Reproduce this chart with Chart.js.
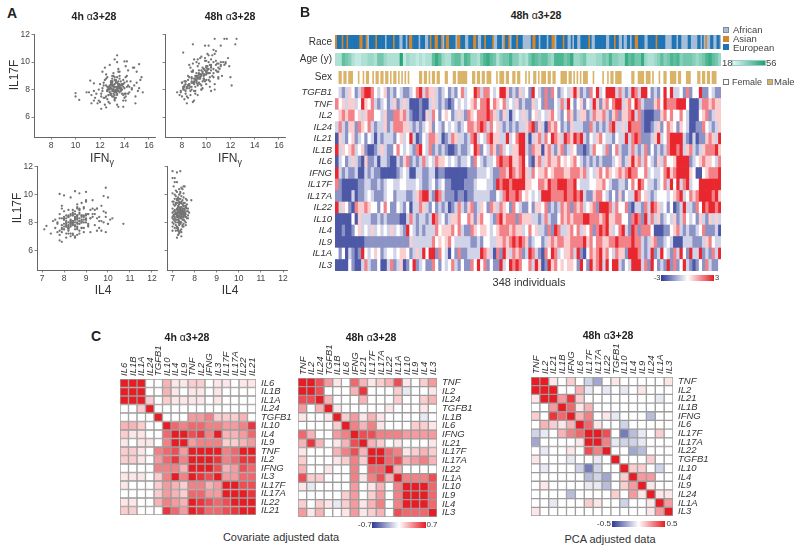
<!DOCTYPE html>
<html>
<head>
<meta charset="utf-8">
<script src="https://cdn.jsdelivr.net/npm/chart.js@4/dist/chart.umd.min.js"></script>
<style>
body { margin:0; background:#fff; font-family:"Liberation Sans",Arial,sans-serif; color:#333; }
canvas { position:absolute; }
.t { position:absolute; white-space:nowrap; line-height:1; }
.box { position:absolute; }
</style>
</head>
<body>
<script>
// ---------- panel A, values
var x1 = [10.0,10.0,10.3,11.2,11.5,12.8,13.2,13.4,13.4,14.0,
14.2,15.2,15.0,14.9,15.4,15.5,12.1,12.5,13.5,13.9,
10.9,11.1,11.3,11.5,11.6,11.8,11.3,11.5,11.7,11.9,
12.0,12.1,12.2,12.3,12.4,12.5,12.1,12.2,12.3,12.4,
12.6,12.7,12.8,12.9,13.0,13.1,12.6,12.7,12.8,12.9,
13.0,13.1,13.2,13.3,13.4,13.5,13.0,13.1,13.2,13.3,
13.4,13.5,13.6,13.7,13.8,13.9,13.4,13.5,13.6,13.7,
13.8,13.9,14.0,14.1,14.2,14.3,13.2,13.3,13.4,13.5,
14.0,14.1,14.2,14.3,14.4,14.5,14.6,14.7,14.8,14.9,
15.0,15.1,15.2,15.3,12.4,12.6,12.8,13.0,13.2,13.4,
12.5,12.7,12.9,13.1,13.3,13.5,13.7,13.9,14.1,14.3,
12.2,12.4,12.6,12.8,13.0,13.2,13.4,13.6,13.8,14.0,
12.9,13.0,13.1,13.2,13.3,13.4,13.5,13.6,13.0,13.2,
13.1,13.3,13.5,13.7,12.7,12.9,13.6,13.8,14.2,14.4,
11.9,12.0,12.3,12.5,13.0,13.2,13.6,14.1,14.6,14.8,
12.6,12.8,13.0,13.2,13.4,13.6,13.8,14.0,12.7,12.9,
13.1,13.3,13.5,13.7,13.9,12.8,13.0,13.2,13.4,13.6,
12.5,12.7,12.9,13.1,13.3,13.5,13.7,13.9,14.1,12.6,
12.8,13.0,13.2,13.4,13.6,13.8,12.9,13.1,13.3,13.5];
var y1 = [7.5,7.75,7.25,8.65,8.45,9.8,10.2,10.5,10.0,10.05,
10.05,9.85,9.3,7.0,8.9,7.8,6.6,6.7,6.75,6.75,
7.8,7.8,7.0,7.2,7.4,7.0,7.6,7.9,7.7,7.2,
7.1,7.5,7.9,8.3,8.7,9.1,7.7,8.1,8.5,6.9,
7.3,7.6,8.0,8.4,8.8,9.2,8.2,7.1,7.8,8.6,
7.5,8.3,8.9,7.4,8.1,9.5,8.0,7.7,8.4,8.7,
7.6,8.2,8.8,7.9,8.4,7.2,8.5,7.9,9.0,8.3,
7.7,8.7,8.1,7.5,9.0,8.3,7.9,8.6,8.2,9.3,
7.4,8.9,8.2,9.4,7.8,8.6,8.1,9.6,8.3,7.5,
8.5,7.9,8.1,8.7,7.4,8.9,7.0,8.6,7.2,6.9,
8.3,8.0,7.6,9.0,7.8,8.1,8.6,8.2,9.7,7.7,
9.3,9.6,7.9,8.2,8.3,7.9,8.0,8.4,8.0,8.5,
8.1,8.4,7.9,8.2,8.0,7.7,8.3,8.1,8.6,7.4,
8.0,8.2,8.4,8.1,8.1,8.3,7.8,8.3,8.6,8.2,
8.0,8.4,7.4,8.8,9.0,7.3,9.3,7.2,8.0,9.6,
7.9,8.1,8.3,7.8,8.0,8.2,8.4,7.7,7.6,8.5,
8.2,7.8,8.6,8.0,7.6,7.8,8.5,7.6,8.9,8.1,
7.5,8.2,7.7,7.5,8.5,7.9,8.1,8.4,7.7,8.0,
8.3,7.9,8.7,7.9,8.3,8.0,8.6,8.1,7.9,8.4];
var x2 = [8.1,8.9,9.9,10.2,10.7,11.5,11.7,12.5,11.2,12.4,
7.6,7.8,7.9,8.0,8.1,8.2,8.3,8.2,8.4,8.5,
8.6,8.7,8.8,8.9,8.0,8.2,8.4,8.6,8.8,9.0,
9.1,9.2,9.3,9.4,9.5,8.5,8.7,8.9,9.1,9.3,
9.5,9.6,9.7,9.8,9.9,10.0,9.0,9.2,9.4,9.6,
9.8,10.0,10.1,10.2,10.3,10.4,10.5,9.3,9.5,9.7,
9.9,10.1,10.3,10.5,10.6,10.7,10.8,10.9,11.0,11.1,
10.0,10.2,10.4,10.6,10.8,11.0,11.2,11.4,11.6,11.8,
12.0,12.1,11.9,11.5,11.3,11.0,10.7,10.4,10.2,9.9,
8.4,8.7,9.0,9.3,9.6,9.0,8.8,8.6,8.3,8.1,
9.2,9.4,9.6,9.8,10.0,10.2,9.1,9.3,9.5,9.7,
7.9,8.2,8.5,8.8,9.1,9.4,9.7,10.0,10.3,10.6,
8.4,8.6,8.8,9.0,9.2,9.4,9.6,9.8,10.0,10.2,
8.3,8.6,8.9,9.2,9.5,9.8,10.1,10.4,10.7,11.0,
8.9,9.2,9.6,10.0,10.4,10.8,11.2,11.6,10.6,10.9,
8.1,8.3,8.5,8.7,8.9,9.1,9.3,9.5,9.7,9.9,
8.2,8.4,8.6,8.8,9.0,9.2,9.4,9.6,9.8,10.0,
8.0,8.3,8.5,8.8,9.0,9.3,9.5,9.8,10.1,10.3,
10.4,10.6,10.8,11.0,11.2,9.9,10.1,10.3,9.1,9.3];
var y2 = [10.7,11.3,11.2,11.2,11.7,11.7,11.7,11.7,11.2,11.3,
7.8,7.6,7.9,7.5,8.0,7.3,7.7,8.2,7.0,7.4,
8.3,7.6,8.5,7.1,8.5,8.6,8.1,8.9,8.0,8.4,
7.7,8.7,8.3,9.1,8.4,9.0,9.6,9.3,8.2,9.7,
8.9,9.4,8.1,9.0,8.6,9.3,7.9,8.5,9.9,8.0,
8.7,9.1,9.5,9.2,8.6,9.8,9.0,10.2,9.1,9.6,
10.1,9.7,9.2,10.5,10.0,10.6,9.4,9.9,8.8,9.5,
8.4,8.7,9.7,8.9,10.1,9.3,9.8,10.0,9.9,10.3,
8.9,8.3,9.7,9.8,9.0,9.6,8.0,7.9,10.5,9.1,
7.5,7.9,7.2,7.6,8.0,10.2,9.3,9.8,8.6,8.2,
9.2,9.4,9.0,9.1,9.3,9.5,8.8,9.0,8.8,9.2,
7.8,8.3,8.7,8.9,7.9,8.5,8.6,10.1,8.2,9.2,
8.1,8.4,8.8,8.5,8.9,9.2,8.3,9.5,8.7,10.0,
8.4,8.1,9.4,8.6,10.3,8.8,10.6,9.4,8.4,8.9,
9.9,10.0,10.4,9.6,10.2,10.8,9.7,10.0,10.9,9.3,
8.1,7.9,8.3,8.2,8.5,8.7,8.9,9.1,9.3,9.4,
8.0,8.2,8.4,8.6,8.8,9.0,8.8,9.1,9.5,9.7,
8.5,8.6,8.3,8.2,8.6,8.4,8.9,8.8,9.2,9.8,
9.6,9.5,9.8,9.9,10.0,10.3,9.4,8.9,9.0,8.8];
var x3 = [7.1,7.2,7.4,7.8,8.0,8.5,8.7,9.0,9.9,10.7,
10.2,7.8,7.9,7.5,7.6,7.6,7.7,7.7,7.8,7.8,
7.9,7.9,8.0,8.0,8.1,8.1,8.2,8.2,8.3,8.3,
8.4,8.4,8.5,8.5,8.6,8.6,8.7,8.7,8.8,8.8,
8.9,8.9,9.0,9.0,9.1,9.1,9.2,9.2,9.3,9.3,
9.4,9.4,9.5,9.5,9.6,9.6,9.7,9.7,9.8,9.8,
9.9,9.9,10.0,10.0,10.1,7.8,7.9,8.0,8.1,8.2,
8.3,8.4,8.5,8.6,8.7,8.8,8.9,9.0,9.1,9.2,
8.0,8.1,8.2,8.3,8.4,8.5,8.6,8.7,8.8,8.9,
7.7,7.9,8.1,8.3,8.5,8.7,8.9,9.1,9.3,9.5,
8.2,8.3,8.4,8.5,8.6,8.7,8.8,8.2,8.3,8.4,
8.4,8.6,8.8,9.0,9.2,9.4,9.6,9.8,8.0,8.2,
8.5,8.6,8.7,8.8,8.9,9.0,8.4,8.5,8.6,8.7,
8.1,8.2,8.3,8.4,8.5,8.6,8.0,8.1,8.2,8.3,
7.9,8.3,8.6,9.0,9.3,9.7,9.9,10.0,8.8,9.5,
7.9,8.0,8.1,8.2,8.3,8.4,8.5,8.6,8.7,8.8,
8.9,9.0,9.1,8.0,8.1,8.2,8.3,8.4,8.5,8.6,
8.7,8.8,7.8,7.9,8.0,8.1,8.2,8.3,8.4,8.5,
8.6,8.7,8.9,9.0,8.2,8.4,8.6,8.3,8.5,8.7];
var y3 = [7.5,7.75,7.2,10.05,9.95,10.25,10.1,10.2,10.5,7.9,
8.3,6.7,6.6,8.1,7.6,8.2,7.3,7.9,7.1,8.6,
7.5,9.0,7.7,8.4,6.9,7.9,7.4,8.9,7.0,8.2,
7.2,8.5,6.9,8.0,7.6,9.3,7.9,8.6,8.2,9.4,
7.6,9.1,8.3,9.5,7.7,8.6,8.9,7.3,8.4,9.6,
7.8,8.9,7.4,9.0,8.1,7.6,9.2,7.4,8.0,9.9,
8.7,7.3,9.8,7.9,8.2,7.4,8.3,8.8,7.7,7.5,
8.1,7.8,8.4,7.7,8.9,8.0,8.5,9.6,7.8,8.3,
8.2,8.3,8.0,8.6,8.1,8.4,8.3,8.7,8.0,8.2,
8.0,7.6,8.5,7.2,7.5,7.2,7.3,7.9,8.6,8.3,
7.7,7.9,8.1,7.8,8.0,7.9,8.4,8.4,8.1,8.7,
8.9,9.0,8.1,8.5,8.3,8.6,8.4,8.8,7.9,7.8,
8.6,8.2,9.0,7.6,9.0,8.0,7.9,7.0,8.5,7.4,
8.1,8.4,7.7,7.9,8.2,7.1,8.3,7.2,7.6,8.0,
9.2,9.8,9.1,8.2,9.0,8.1,8.4,7.9,8.5,9.0,
7.8,8.2,8.0,7.6,7.8,8.0,8.2,8.4,8.3,8.5,
8.4,8.2,8.6,7.5,7.8,7.6,7.9,8.1,7.7,7.9,
8.1,7.6,8.3,7.3,7.5,7.7,8.5,8.0,8.6,8.3,
8.5,8.1,8.0,8.6,7.2,7.1,7.5,8.5,8.8,8.9];
var x4 = [7.0,7.2,7.35,7.0,7.1,7.2,7.2,7.25,7.4,7.85,
7.0,7.0,7.0,7.0,7.0,7.0,7.05,7.05,7.05,7.05,
7.1,7.1,7.1,7.1,7.1,7.1,7.15,7.15,7.15,7.15,
7.15,7.2,7.2,7.2,7.2,7.2,7.2,7.25,7.25,7.25,
7.25,7.25,7.25,7.3,7.3,7.3,7.3,7.3,7.3,7.3,
7.35,7.35,7.35,7.35,7.35,7.35,7.4,7.4,7.4,7.4,
7.4,7.4,7.4,7.45,7.45,7.45,7.45,7.45,7.45,7.5,
7.5,7.5,7.5,7.5,7.5,7.55,7.55,7.55,7.55,7.55,
7.6,7.6,7.6,7.6,7.65,7.65,7.65,7.7,7.7,7.75,
7.1,7.15,7.2,7.25,7.3,7.35,7.4,7.45,7.5,7.55,
7.2,7.25,7.3,7.35,7.4,7.45,7.5,7.55,7.3,7.35,
7.05,7.1,7.15,7.2,7.25,7.3,7.35,7.4,7.45,7.5,
7.4,7.5,7.45,7.35,7.3,7.25,7.2,7.6,7.55,7.5,
7.0,7.05,7.1,7.15,7.3,7.4,7.5,7.6,7.7,7.3,
7.35,7.4,7.45,7.5,7.55,7.25,7.2,7.3,7.35,7.4,
7.0,7.1,7.2,7.3,7.4,7.5,7.6,7.7,7.05,7.15,
7.25,7.35,7.45,7.55,7.65,7.1,7.2,7.3,7.4,7.5,
7.05,7.15,7.25,7.35,7.45,7.55,7.6,7.65,7.0,7.1,
7.2,7.3,7.4,7.5,7.6,7.3,7.35,7.45,7.25,7.15];
var y4 = [11.7,11.6,11.7,11.2,11.2,10.9,6.9,7.1,7.0,9.6,
10.1,9.0,8.7,8.3,8.0,7.7,10.6,9.5,8.5,7.9,
10.9,9.2,8.9,8.4,8.1,7.6,10.3,9.3,8.6,8.2,
7.4,10.2,9.4,9.0,8.6,8.2,7.7,9.8,9.1,8.8,
8.4,8.0,7.5,10.0,9.3,8.9,8.5,8.1,7.8,7.2,
9.7,9.0,8.7,8.3,7.9,7.4,10.5,9.5,9.1,8.7,
8.4,8.0,7.5,10.4,9.6,9.0,8.6,8.2,7.7,10.6,
9.8,9.2,8.8,8.4,7.9,10.6,9.4,9.0,8.5,8.1,
9.7,9.1,8.6,8.0,9.3,8.8,8.3,9.0,8.5,8.7,
8.8,8.6,8.9,9.2,9.0,8.8,9.1,8.8,9.0,8.7,
8.4,8.7,8.5,8.9,8.6,8.9,8.5,8.8,9.7,9.4,
9.3,10.0,9.9,9.7,9.6,9.4,10.2,8.9,8.7,9.4,
9.9,10.1,9.3,10.1,10.4,7.4,7.6,8.4,8.5,8.2,
7.4,8.2,8.6,8.0,7.3,7.3,7.7,7.8,8.3,9.1,
8.6,8.5,8.4,8.2,8.6,8.4,8.5,8.3,8.0,8.7,
8.4,8.6,8.7,8.8,8.9,8.6,8.4,8.8,8.8,9.4,
8.2,8.4,8.6,8.9,9.0,8.3,8.5,8.1,8.3,9.2,
8.5,8.7,8.7,8.7,8.7,8.7,9.2,9.6,9.5,9.7,
9.6,9.5,9.4,9.2,9.1,7.9,8.0,7.8,7.6,7.8];
var yTicksA = [6,8,10,12];
var ifngTicks = [8,10,12,14,16];
var il4Ticks = [7,8,9,10,11,12];

// ---------- panel B, 348 individuals binned into columns
// race: a African, s Asian, e European. sex: f female, m male. age: 0 youngest .. 9 oldest
var race = 'seeeseeseeeeeeesseesaeeeeseeeeeaeeeeseeeaaeeaesseeeeaeeeaaes'
 +'eesseesaesseeeeasseeeaaeeesseaaeeseeeesaaeeeaseesaeeeseeeaaa'
 +'aaesseeaeeeeaeessaeeeeseeaaeaeeaaeeeeeseaaeeeeeeeaaeeeseeaaea'
 +'aeeaeesseeeeaaeeeeeseeeeeaaaaeeeaeeaaaaeeaaaaeeaeasaaeeaaeea';
var age = '226542112233255322229132212122'+'686322566376332578652455744232'+'576566437775683345222335474433'+'867558322346457674555434578653';
var sex = 'ffmmfmmfmmmfffmffmfmmffmfmmfmmfmmfmfmmfmfmfmfmffffffmmfmmfmf'
 +'mmfmmfffmmfffmmfmmmmmmfffmmfmmfmmfmmmfffmfmmmfmmffmmfmmfffmf'
 +'mffmmfmfmmmfmmfmmfffmmmmfmmfmfmfmfmmmfffmfffffmffmfmmfmmmmff'
 +'ffffmmffmmmmfmmmfmfffmffmmffmmmmfmmfffmmmffffmmfmmfmmfmmmfff';
var genes = ['TGFB1','TNF','IL2','IL24','IL21','IL1B','IL6','IFNG','IL17F','IL17A','IL22','IL10','IL4','IL9','IL1A','IL3'];
// one string per gene, a=-3 b=-2 c=-1 d=0 e=1 f=2 g=3
var heat = [
'dcbcedbcfggfdcdebcbdcbbcdfgcfe'+'ecbcdbcbdfcddgfcffdcdggebcbecd'+'bgdcbfbfdbcdcegebcbfdgcdgggcfc'+'bcgfcggdbcbdgdgccdbfbddgbbdcbb',
'fdeceecdgedfcbcdbcebcecaaabaac'+'ecbcbabdcdcdefdffgdfedfcdcebcb'+'becdbfbbdcfcgdbdebdcgebefdfggc'+'efdgfcbbbefdgfffgggdaaacffefee',
'defeffdeceffddcebbffefcbaabaec'+'fdbdedbcecbfedfffgfecbecacdcec'+'bdecdcefdcbdfebceebcfeefcbefbe'+'efgcfbaaabbefdfddfdcaaadefbcee',
'cfcbeebfedfcbccebcfffeecbcbcde'+'bdcbdcdcbcdffefgfcfdecbcbcbcce'+'fgbecafefdbcbecccbbfcbcbcfgcce'+'cgfffbaabcebdfedbedcaabbfdcbce',
'aecbdebcdbdcacbcccbdecdgcabdcf'+'fecabcfeccbcfgcdcfgeeccgcdfggc'+'acefcfdgfecgfegfgcbdcefdccbdcc'+'gcfgfbbbcegcdfggggcbacabbefecg',
'gcedefcdebaabcecbbdfdcdcbfgdcf'+'bcbcbaabcbbcdgfbdcfebfcdceeggc'+'bfeeaefcbefbcedbbabcfddcfbdfcb'+'bcfcbcfbdbcbcfggfgcefcbcefffge',
'acdbcecbaebbcaccbaacbefbcbcfcd'+'cfeedcdcbccdbfdcbccdfgffgeefgd'+'baefcefeefdedefdcbcbcbcbbbcdeb'+'cegefcfdcbecfddeggggbcdefeedcf',
'gcbcbbcaacbcbbaaaaabcdcaaccbbc'+'cabbaaaaaaabbbcccdcbbffegfefge'+'cfdeefdefffeefffefcdcefdfedefe'+'fgffddfcdccdfgefggggedaadefffg',
'fbaaaaabbccbbcbcddccddcccdcbbc'+'dbcdbbaaaabbbcdddccbgfggfgggge'+'eddffegffgggffgdcccddeefdcbbcc'+'bdfdgfdccbcdfcgdgcfgcddggggggg',
'bbaaacabbcdcbbbcddbcccbbcefggc'+'bgfcbbbabbabbcccccbbdcfgffgfde'+'dcdcgggffffgffgfgcbbeffdcbdbeb'+'dccgfdecbcdddcdefgcdfefggggfge',
'gcedbafeefeddbdfdbbdcbdaccfecb'+'dbcbcabcfcbefbcedbfecfedbfdcbb'+'dbeedfbcbcfefbfefcdefbgggfcfdd'+'fbaccbfcgfecdbdabcgccbfdgfggfg',
'aaaaadaecccbbcbcbbbbaacfcbccbc'+'gfcdbceefddfebefddcbfgefffbfee'+'eccbcfcbbdfefefffggfffefgeeffd'+'dbfgfbgcfcebcdcebcfdcdbecbecec',
'aabaabdecdcecdcdcecdcbgdcbcbcc'+'cfdeeefdfcbbfedeedcdefffefeecd'+'fdeccbfbgfccefdfcedfbfgfgecdfg'+'cbgfbfffdaaabbdefcbcbbcdfbbbca',
'aaaaaaaaabbbbbbbbbbbbbbecccccc'+'fdedefdcccccbbcbddcceefefgfgfe'+'bcddbcefeffeeffffgefdffeeffgff'+'ffgffcbcefbbcdcaaacccbbbcefdcc',
'dbdacbabgdcdedbcddcdeedbcecgdg'+'gbfdcadbfbbccccgfecafbgecfefbc'+'gfcbafdgfcdeefcgbadfefgefdcfee'+'bgggfcbcgbcgdcbfcgdbgccgbcbfcg',
'aaaadbaacfcbbdaacfbceabdgbcdbb'+'fdbdcdfcbdbbfdgdfbdbbgcdgfgfdd'+'fcgeabgefdedeedbgdbgefgcgdggcb'+'dcgggcfbgdbcbgbfbdgcbabdbfcbbd'
];
// how far along the colour bar each letter sits
var heatSteps = [-0.85,-0.55,-0.22,0,0.22,0.55,0.95];

// ---------- panel C, correlation in steps of 1/9 of the colour bar end
var labels1 = ['IL6','IL1B','IL1A','IL24','TGFB1','IL10','IL4','IL9','TNF','IL2','IFNG','IL3','IL17F','IL17A','IL22','IL21'];
var corr1 = [
[9,9,9,0,0,3,1,1,2,2,0,1,1,0,1,1],
[9,9,9,0,0,3,1,0,1,1,0,1,0,0,0,0],
[9,9,9,2,0,2,1,1,1,1,0,1,0,0,0,0],
[0,0,2,9,0,0,0,0,0,0,0,0,0,0,0,0],
[0,0,0,0,9,0,0,0,4,4,5,2,2,2,3,0],
[3,3,2,0,0,9,6,5,6,6,5,5,4,4,5,8],
[2,1,1,0,0,6,9,9,7,8,5,9,3,3,4,6],
[1,0,1,1,0,5,9,9,4,5,5,5,2,2,3,4],
[2,2,1,0,5,6,7,4,9,9,9,9,5,6,9,9],
[2,2,1,0,4,6,8,5,9,9,9,8,5,6,8,8],
[0,0,0,0,5,5,5,3,9,9,9,7,3,4,7,6],
[1,1,1,0,2,5,9,5,9,8,7,9,4,4,6,6],
[1,0,0,0,2,4,3,2,5,5,3,4,9,9,7,7],
[0,0,0,0,2,4,3,2,6,6,4,4,9,9,9,8],
[1,1,0,0,3,5,4,3,9,8,7,6,7,9,9,9],
[2,2,0,0,0,8,6,4,9,8,6,6,7,8,9,9]];
var labels2 = ['TNF','IL2','IL24','TGFB1','IL1B','IL6','IFNG','IL21','IL17F','IL17A','IL22','IL1A','IL10','IL9','IL4','IL3'];
var corr2 = [
[9,9,7,4,1,0,6,3,1,2,3,7,1,0,2,4],
[9,9,7,0,0,0,3,8,0,0,0,2,-1,0,0,1],
[7,7,9,3,0,0,0,3,0,0,0,2,0,0,2,3],
[4,0,3,9,1,0,0,0,0,0,1,0,0,0,1,0],
[1,0,0,1,9,2,4,1,3,1,0,0,0,0,-1,0],
[0,0,0,0,2,9,5,3,5,1,0,0,0,2,2,1],
[6,3,0,0,4,5,9,7,7,5,5,5,4,4,4,4],
[3,8,3,0,1,3,7,9,3,2,0,1,0,0,0,1],
[1,0,0,0,3,5,7,3,9,9,6,5,1,2,3,2],
[2,0,0,0,1,2,5,2,9,9,6,7,3,4,5,3],
[3,0,0,1,0,0,5,0,6,6,9,3,0,0,0,0],
[7,2,2,0,0,0,5,1,5,7,3,9,5,5,5,7],
[1,-1,0,0,0,0,4,0,1,3,0,5,9,9,9,6],
[0,0,0,0,0,2,4,0,2,4,0,5,9,9,9,6],
[2,0,2,1,-1,2,4,1,3,5,0,5,9,9,9,6],
[4,1,3,0,0,1,4,1,2,3,0,7,6,6,6,9]];
var labels3 = ['TNF','IL2','IL21','IL1B','IFNG','IL6','IL17F','IL17A','IL22','TGFB1','IL10','IL4','IL9','IL24','IL1A','IL3'];
var corr3 = [
[9,9,1,0,2,0,-2,-4,0,1,0,0,0,0,0,1],
[9,9,9,0,0,3,-1,0,-1,0,-1,0,1,0,0,0],
[1,9,9,4,8,2,0,0,0,0,0,0,0,0,-1,0],
[0,0,4,9,6,1,3,0,0,0,0,0,0,0,0,0],
[2,0,8,6,9,3,5,0,1,-1,0,0,0,-3,0,0],
[0,3,2,1,3,9,6,1,0,0,-2,0,0,0,0,0],
[-2,-1,0,3,5,6,9,9,7,0,-6,-3,-1,0,2,0],
[-4,0,0,0,0,1,9,9,5,-1,-2,-2,-1,0,0,0],
[0,-1,0,0,1,0,7,5,9,0,0,-4,-3,0,0,0],
[1,0,0,0,-1,0,0,-1,0,9,0,0,0,2,0,0],
[0,-1,0,0,0,-2,-6,-2,0,0,9,2,2,0,-2,0],
[0,0,0,0,0,0,-3,-2,-4,0,2,9,4,4,0,0],
[0,1,0,0,0,0,-1,-1,-3,0,2,4,9,1,0,0],
[0,0,0,0,-3,0,0,0,0,2,0,4,1,9,1,1],
[0,0,-1,0,0,0,2,1,0,0,-2,0,0,1,9,4],
[1,0,0,0,0,0,0,0,0,0,0,0,0,1,4,9]];

var FONT = '"Liberation Sans", Arial, sans-serif';
Chart.defaults.font.family = FONT;
Chart.defaults.animation = false;
Chart.defaults.responsive = false;
Chart.defaults.events = [];
Chart.defaults.plugins.legend.display = false;
Chart.defaults.plugins.tooltip.enabled = false;

// blue - white - red ramp, v from -1 to 1
function ramp(v) {
  var c = v < 0 ? [46,58,150] : [232,28,36];
  var a = Math.min(1, Math.abs(v));
  return 'rgb(' + c.map(function(k){ return Math.round(255 + (k-255)*a); }).join(',') + ')';
}

// canvas around a plot box given in page pixels, m = room for the axes, pad = extra space
function makeChart(box, m, pad, config) {
  var cv = document.createElement('canvas');
  cv.width = box.r - box.l + m.l + m.r;
  cv.height = box.b - box.t + m.t + m.b;
  cv.style.left = (box.l - m.l) + 'px';
  cv.style.top = (box.t - m.t) + 'px';
  document.body.appendChild(cv);
  config.options.layout = { padding: pad };
  return new Chart(cv, config);
}

function text(html, x, y, css, align) {
  var d = document.createElement('div');
  d.className = 't';
  d.innerHTML = html;
  d.style.cssText = 'left:'+x+'px;top:'+y+'px;' + (css||'');
  var tx = align === 'left' ? '0' : '-50%';
  d.style.transform = 'translate('+tx+',-50%)' + (align === 'rot' ? ' rotate(-90deg)' : '');
  document.body.appendChild(d);
}
function box(x, y, w, h, css) {
  var d = document.createElement('div');
  d.className = 'box';
  d.style.cssText = 'left:'+x+'px;top:'+y+'px;width:'+w+'px;height:'+h+'px;' + css;
  document.body.appendChild(d);
}

function scatter(xs, ys, b, xr, yr, xTicks, showY) {
  var pts = xs.map(function(v,i){ return {x:v, y:ys[i]}; });
  var m = { l:30, t:3, r:4, b:16 };
  var axis = function(ticks, show) {
    return {
      grid: { drawOnChartArea:false, drawTicks:true, tickLength:2.5, color:'#666', lineWidth:0.8 },
      border: { display:true, color:'#666', width:1 },
      ticks: { color:'#444', font:{size:8.5}, padding:1.5, autoSkip:false, maxRotation:0,
               display:show, callback:function(v){ return v; } },
      afterBuildTicks: function(s){ s.ticks = ticks.map(function(v){ return {value:v}; }); }
    };
  };
  var xa = axis(xTicks, true);
  xa.type='linear'; xa.min=xr[0]; xa.max=xr[1];
  xa.afterFit = function(s){ s.height = m.b; s.paddingLeft = s.paddingRight = 0; };
  var ya = axis(yTicksA, showY);
  ya.min=yr[0]; ya.max=yr[1];
  ya.afterFit = function(s){ s.width = m.l; s.paddingTop = s.paddingBottom = 0; };
  makeChart(b, m, { top:m.t, right:m.r }, { type:'scatter',
    data:{ datasets:[{ data:pts, pointRadius:1.15, backgroundColor:'#747474', borderWidth:0 }] },
    options:{ scales:{ x:xa, y:ya }, clip:false } });
}

scatter(x1, y1, {l:34,t:33,r:155,b:137}, [6.6,16.5], [4.55,12.05], ifngTicks, true);
scatter(x2, y2, {l:165,t:33,r:285,b:137}, [6.6,16.5], [4.55,12.05], ifngTicks, false);
scatter(x3, y3, {l:37,t:165,r:157,b:270}, [6.77,12.23], [4.57,12.07], il4Ticks, true);
scatter(x4, y4, {l:167,t:165,r:287,b:270}, [6.75,12.18], [4.57,12.07], il4Ticks, false);

// horizontal stacked bars, one dataset per column of cells
function cells(b, m, pad, rowLabels, nCols, colour, yOpt, border, xOpt) {
  var sets = [];
  for (var c = 0; c < nCols; c++) {
    var bg = [], vals = [];
    for (var r = 0; r < rowLabels.length; r++) { vals.push(1); bg.push(colour(r, c)); }
    sets.push({ data:vals, backgroundColor:bg, borderWidth:border||0, borderColor:'#9c9c9c',
      borderSkipped:false, barPercentage:1, categoryPercentage:1 });
  }
  var x = Object.assign({ type:'linear', stacked:true, min:0, max:nCols, display:false }, xOpt||{});
  var right = yOpt.position === 'right';
  var y = { stacked:true, grid:{display:false, drawTicks:false, tickLength:0}, border:{display:false},
    ticks:{ color:'#333', autoSkip:false, padding:yOpt.padding||3, font:yOpt.font },
    position:yOpt.position||'left',
    afterFit:function(s){ s.width = right ? m.r : m.l; s.paddingTop = s.paddingBottom = 0; } };
  makeChart(b, m, pad, { type:'bar', data:{ labels:rowLabels, datasets:sets },
    options:{ indexAxis:'y', scales:{ x:x, y:y } } });
}

var raceColour = { a:'#a4bdd8', s:'#d6862c', e:'#1f74b4' };
var sexColour = { f:'#ffffff', m:'#d9b368' };
function ageColour(d) {
  var k = +d / 9, lo = [214,241,238], hi = [38,165,120];
  return 'rgb(' + lo.map(function(v,i){ return Math.round(v + (hi[i]-v)*k); }).join(',') + ')';
}
var lab = { font:{size:10} }, mB = { l:50, t:0, r:0, b:0 };
cells({l:335,t:35,r:721,b:49}, mB, {}, ['Race'], race.length, function(r,c){ return raceColour[race[c]]; }, lab);
cells({l:335,t:53,r:721,b:66}, mB, {}, ['Age (y)'], age.length, function(r,c){ return ageColour(age[c]); }, lab);
cells({l:335,t:71,r:721,b:84}, mB, {}, ['Sex'], sex.length, function(r,c){ return sexColour[sex[c]]; }, lab);
cells({l:335,t:87,r:721,b:271}, mB, {}, genes, heat[0].length,
  function(r,c){ var k = 'abcdefg'.indexOf(heat[r][c]); return ramp(k < 0 ? 0 : heatSteps[k]); },
  { font:{size:9.5, style:'italic'} });

function corrMap(labels, m, b) {
  var n = labels.length, mC = { l:8, t:45, r:45, b:0 };
  cells(b, mC, { left:mC.l }, labels, n,
    function(r,c){ return ramp(m[r][c]/9); },
    { font:{size:9.5, style:'italic'}, position:'right', padding:5 }, 1,
    { display:true, position:'top', grid:{display:false, drawTicks:false, tickLength:0}, border:{display:false},
      ticks:{ color:'#333', autoSkip:false, padding:3, minRotation:90, maxRotation:90,
              font:{size:9.5, style:'italic', lineHeight:0.1},
              callback:function(v){ return labels[Math.floor(v)]; } },
      afterBuildTicks:function(s){ s.ticks = labels.map(function(l,i){ return {value:i+0.67}; }); },
      afterFit:function(s){ s.height = mC.t; s.paddingLeft = s.paddingRight = 0; } });
}
corrMap(labels1, corr1, {l:120,t:379,r:256,b:515});
corrMap(labels2, corr2, {l:298,t:378,r:437,b:517});
corrMap(labels3, corr3, {l:531,t:377,r:673,b:516});

// ---------- text around the panels
var head = 'font-weight:bold;font-size:10.5px;color:#222;';
var alpha = '<span style="font-weight:normal">&alpha;</span>';
var panel = 'font-weight:bold;font-size:14px;color:#222;';
text('A', 12, 13, panel);
text('B', 305, 12, panel);
text('C', 96, 336, panel);
text('4h '+alpha+'3+28', 94, 16, head);
text('48h '+alpha+'3+28', 230, 16, head);
text('48h '+alpha+'3+28', 536, 15, head);
text('4h '+alpha+'3+28', 187, 337, head);
text('48h '+alpha+'3+28', 371, 337, head);
text('48h '+alpha+'3+28', 608, 335, head);

var ax = 'font-size:12px;color:#333;';
text('IL17F', 14, 75, ax, 'rot');
text('IL17F', 17, 208, ax, 'rot');
var gamma = 'IFN<sub style="font-size:9px;line-height:0">&gamma;</sub>';
text(gamma, 102, 158, ax);
text(gamma, 230, 158, ax);
text('IL4', 103, 290, ax);
text('IL4', 230, 290, ax);

var small = 'font-size:9.5px;color:#444;';
box(723, 26.5, 6, 6, 'background:#a4bdd8;border:0.5px solid #888;box-sizing:border-box;');
box(723, 35.5, 6, 6, 'background:#d6862c;');
box(723, 44, 6, 6, 'background:#1f74b4;');
text('African', 733, 30, small, 'left');
text('Asian', 733, 38.5, small, 'left');
text('European', 733, 47.5, small, 'left');
text('18', 722, 63, small, 'left');
box(732, 60, 34, 6, 'background:linear-gradient(90deg,#e4f6f3,#1e9e6e);border:0.5px solid #9cc;box-sizing:border-box;');
text('56', 766, 63, small, 'left');
box(723, 79, 6, 6, 'background:#fff;border:0.7px solid #777;box-sizing:border-box;');
text('Female', 732, 82, 'font-size:9px;color:#444;', 'left');
box(767, 79, 6, 6, 'background:#d9b368;border:0.7px solid #999;box-sizing:border-box;');
text('Male', 774, 82, small, 'left');

var ramp3 = 'background:linear-gradient(90deg,#2e3a96,#ffffff 50%,#e81c24);';
text('348 individuals', 529, 282, 'font-size:11px;color:#333;');
text('-3', 657, 278, 'font-size:7.5px;color:#333;');
box(661, 275, 53, 6, ramp3);
text('3', 717, 278, 'font-size:7.5px;color:#333;');

text('Covariate adjusted data', 281, 537, 'font-size:11px;color:#333;');
text('PCA adjusted data', 610, 539, 'font-size:11px;color:#333;');
var cb = 'font-size:8px;color:#333;';
text('-0.7', 365, 525, cb);
box(372, 522, 54, 6, ramp3);
text('0.7', 432, 525, cb);
text('-0.5', 604, 524, cb);
box(612, 521, 53, 6, ramp3);
text('0.5', 672, 524, cb);
</script>
</body>
</html>
